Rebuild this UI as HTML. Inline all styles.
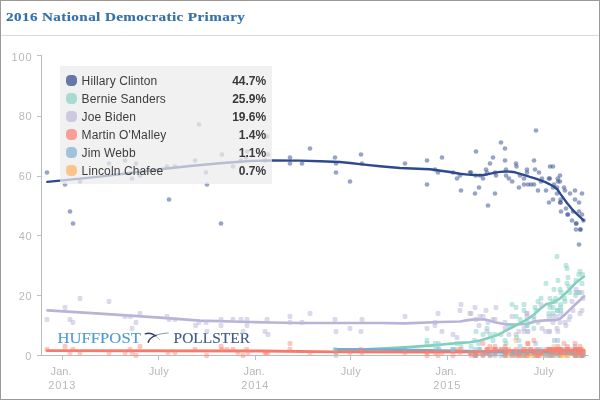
<!DOCTYPE html>
<html><head><meta charset="utf-8"><title>2016 National Democratic Primary</title>
<style>
html,body{margin:0;padding:0;background:#fff;}
body{width:600px;height:400px;overflow:hidden;position:relative;font-family:"Liberation Sans",sans-serif;}
#frame{position:absolute;left:0;top:0;width:598px;height:398px;border:1px solid #999;background:#fff;}
#title{will-change:transform;position:absolute;left:5.6px;top:7px;height:20px;line-height:20px;font-family:"Liberation Serif",serif;font-weight:bold;font-size:13.2px;letter-spacing:0.35px;color:#3371a7;white-space:nowrap;transform:scaleX(1.147);transform-origin:0 0;-webkit-text-stroke:0.15px #3371a7;}
#sep{position:absolute;left:1px;top:35px;width:598px;height:1px;background:#dcdcdc;}
svg{position:absolute;left:0;top:0;will-change:transform;}
#legend{will-change:transform;position:absolute;left:60px;top:66px;width:212px;height:118px;background:rgba(235,235,235,0.72);box-sizing:border-box;padding-top:9px;}
.row{position:relative;height:18px;}
.sw{position:absolute;left:6px;top:0;width:11px;height:11px;border-radius:4.2px;opacity:0.72;}
.nm{position:absolute;left:21.6px;top:-1px;font-size:12px;line-height:14px;color:#3d3d3d;white-space:nowrap;letter-spacing:0.12px;}
.vl{position:absolute;right:5.8px;top:-1px;font-size:12px;line-height:14px;font-weight:bold;color:#3a3a3a;white-space:nowrap;}
</style></head><body>
<div id="frame"></div>
<div id="title">2016 National Democratic Primary</div>
<div id="sep"></div>
<svg width="600" height="400" viewBox="0 0 600 400">
<g stroke="#bbbbbb" stroke-width="1" fill="none"><path d="M41.5 55 V356"/><path d="M41 355.5 H588.5"/></g>
<g stroke="#aec4dc" stroke-width="1"><path d="M37 355.5 H41"/><path d="M37 295.5 H41"/><path d="M37 235.5 H41"/><path d="M37 176.5 H41"/><path d="M37 116.5 H41"/><path d="M37 55.5 H41"/><path d="M62.5 356 V360"/><path d="M158.5 356 V360"/><path d="M255.5 356 V360"/><path d="M350.5 356 V360"/><path d="M447.5 356 V360"/><path d="M543.5 356 V360"/></g>
<g font-family="Liberation Sans, sans-serif" font-size="11" fill="#b9b9b9"><text x="25.3" y="359.5" textLength="6.3" lengthAdjust="spacing">0</text><text x="18.7" y="299.5" textLength="12.9" lengthAdjust="spacing">20</text><text x="18.7" y="239.5" textLength="12.9" lengthAdjust="spacing">40</text><text x="18.7" y="179.5" textLength="12.9" lengthAdjust="spacing">60</text><text x="18.7" y="119.5" textLength="12.9" lengthAdjust="spacing">80</text><text x="11.4" y="61.0" textLength="20.2" lengthAdjust="spacing">100</text><text x="50.6" y="374.8" textLength="21.0" lengthAdjust="spacing">Jan.</text><text x="48.3" y="388.8" textLength="27.0" lengthAdjust="spacing">2013</text><text x="148.7" y="374.8" textLength="20.0" lengthAdjust="spacing">July</text><text x="243.6" y="374.8" textLength="21.0" lengthAdjust="spacing">Jan.</text><text x="241.3" y="388.8" textLength="27.0" lengthAdjust="spacing">2014</text><text x="340.7" y="374.8" textLength="20.0" lengthAdjust="spacing">July</text><text x="435.6" y="374.8" textLength="21.0" lengthAdjust="spacing">Jan.</text><text x="433.3" y="388.8" textLength="27.0" lengthAdjust="spacing">2015</text><text x="533.7" y="374.8" textLength="20.0" lengthAdjust="spacing">July</text></g>
<text x="57.6" y="343.3" font-family="Liberation Serif, serif" font-size="15.6" fill="#4e9bd0" stroke="#4e9bd0" stroke-width="0.15" textLength="83.2" lengthAdjust="spacingAndGlyphs">HUFFPOST</text>
<text x="173.6" y="343.4" font-family="Liberation Serif, serif" font-size="15.2" fill="#3d5b8c" stroke="#3d5b8c" stroke-width="0.15" textLength="76.4" lengthAdjust="spacingAndGlyphs">POLLSTER</text>
<g fill="none" stroke="#2c3f6c" stroke-linecap="round"><path d="M145.3 333.9 C148 332.8 151.5 333.2 155 335.6" stroke-width="1.3"/><path d="M155 335.6 C157 337 158.5 338.2 159.8 339.6" stroke-width="0.5" stroke-opacity="0.6"/><path d="M168.2 333.0 C162 333.4 158.5 334.4 156 335.4" stroke-width="0.8" stroke-opacity="0.7"/><path d="M156 335.4 C152 337 149 339 148.2 342.2" stroke-width="1.5"/></g>
<path d="M47.5 310.4 L100.0 313.6 L160.0 317.6 L200.0 320.6 L250.0 322.0 L270.0 322.5 L300.0 323.0 L380.0 323.0 L405.0 323.4 L440.0 322.0 L460.0 321.5 L468.0 320.2 L475.0 319.4 L485.0 319.5 L490.0 320.7 L495.0 322.3 L505.0 324.3 L515.0 324.5 L527.0 324.0 L535.0 321.4 L545.0 320.3 L555.0 320.2 L560.0 318.8 L565.0 314.4 L572.0 307.6 L578.0 302.0 L584.0 296.2" fill="none" stroke="#b9b3d8" stroke-width="2.7" stroke-linecap="round" stroke-linejoin="round"/>
<path d="M335.0 350.0 L365.0 349.4 L385.0 348.4 L400.0 347.6 L430.0 345.6 L445.0 344.3 L460.0 342.9 L470.0 342.2 L480.0 340.5 L490.0 337.6 L500.0 334.0 L505.0 331.0 L510.0 328.5 L516.0 325.4 L520.0 323.2 L525.0 320.6 L530.0 317.3 L534.0 314.6 L539.0 309.8 L546.0 304.3 L554.0 302.2 L560.0 298.5 L569.0 290.0 L576.0 282.5 L584.0 276.5" fill="none" stroke="#7fcfbc" stroke-width="2.6" stroke-linecap="round" stroke-linejoin="round"/>
<path d="M508.0 353.6 L584.0 353.8" fill="none" stroke="#fdb462" stroke-width="2.4" stroke-linecap="round" stroke-linejoin="round"/>
<path d="M335.0 349.3 L400.0 349.7 L440.0 350.4 L470.0 350.9 L500.0 352.3 L584.0 352.3" fill="none" stroke="#74a9d2" stroke-width="2.4" stroke-linecap="round" stroke-linejoin="round"/>
<path d="M47.2 350.7 L260.0 351.0 L335.0 351.8 L420.0 352.2 L470.0 351.8 L500.0 350.7 L584.0 350.5" fill="none" stroke="#f8786b" stroke-width="2.8" stroke-linecap="round" stroke-linejoin="round"/>
<path d="M47.3 181.9 L60.0 180.6 L100.0 176.6 L130.0 173.0 L160.0 169.3 L190.0 166.0 L220.0 163.2 L250.0 161.0 L272.0 160.5 L300.0 160.6 L320.0 161.2 L340.0 162.0 L350.0 163.0 L362.0 164.4 L380.0 166.2 L400.0 168.0 L430.0 169.2 L450.0 172.0 L460.0 173.8 L468.0 174.6 L475.0 175.1 L482.0 175.2 L488.0 174.2 L495.0 172.6 L500.0 171.9 L506.0 171.5 L511.0 171.7 L515.0 172.3 L522.0 174.4 L530.0 176.9 L535.0 178.3 L540.0 180.1 L545.4 182.1 L553.5 186.2 L557.5 189.5 L560.2 193.6 L567.0 203.0 L573.8 211.2 L583.6 220.3" fill="none" stroke="#2f4a8c" stroke-width="2.4" stroke-linecap="round" stroke-linejoin="round"/>
<g fill="#bebada" fill-opacity="0.55"><rect x="77.6" y="296.1" width="4.8" height="4.8" rx="1.4"/><rect x="106.6" y="299.1" width="4.8" height="4.8" rx="1.4"/><rect x="62.6" y="305.1" width="4.8" height="4.8" rx="1.4"/><rect x="44.6" y="317.1" width="4.8" height="4.8" rx="1.4"/><rect x="67.6" y="317.1" width="4.8" height="4.8" rx="1.4"/><rect x="70.6" y="320.1" width="4.8" height="4.8" rx="1.4"/><rect x="137.6" y="311.1" width="4.8" height="4.8" rx="1.4"/><rect x="122.6" y="314.1" width="4.8" height="4.8" rx="1.4"/><rect x="128.0" y="314.1" width="4.8" height="4.8" rx="1.4"/><rect x="133.6" y="320.1" width="4.8" height="4.8" rx="1.4"/><rect x="129.6" y="326.1" width="4.8" height="4.8" rx="1.4"/><rect x="164.6" y="314.1" width="4.8" height="4.8" rx="1.4"/><rect x="166.6" y="317.1" width="4.8" height="4.8" rx="1.4"/><rect x="172.6" y="317.1" width="4.8" height="4.8" rx="1.4"/><rect x="193.2" y="323.1" width="4.8" height="4.8" rx="1.4"/><rect x="196.6" y="320.1" width="4.8" height="4.8" rx="1.4"/><rect x="203.6" y="320.1" width="4.8" height="4.8" rx="1.4"/><rect x="204.6" y="329.1" width="4.8" height="4.8" rx="1.4"/><rect x="218.6" y="317.1" width="4.8" height="4.8" rx="1.4"/><rect x="218.6" y="323.1" width="4.8" height="4.8" rx="1.4"/><rect x="230.6" y="317.1" width="4.8" height="4.8" rx="1.4"/><rect x="238.6" y="317.1" width="4.8" height="4.8" rx="1.4"/><rect x="244.6" y="317.1" width="4.8" height="4.8" rx="1.4"/><rect x="244.6" y="323.1" width="4.8" height="4.8" rx="1.4"/><rect x="240.6" y="329.1" width="4.8" height="4.8" rx="1.4"/><rect x="264.6" y="317.1" width="4.8" height="4.8" rx="1.4"/><rect x="262.6" y="329.1" width="4.8" height="4.8" rx="1.4"/><rect x="265.6" y="332.1" width="4.8" height="4.8" rx="1.4"/><rect x="287.6" y="314.1" width="4.8" height="4.8" rx="1.4"/><rect x="287.6" y="320.1" width="4.8" height="4.8" rx="1.4"/><rect x="299.6" y="320.1" width="4.8" height="4.8" rx="1.4"/><rect x="307.6" y="311.1" width="4.8" height="4.8" rx="1.4"/><rect x="332.6" y="317.1" width="4.8" height="4.8" rx="1.4"/><rect x="333.6" y="329.1" width="4.8" height="4.8" rx="1.4"/><rect x="347.6" y="326.1" width="4.8" height="4.8" rx="1.4"/><rect x="359.6" y="317.1" width="4.8" height="4.8" rx="1.4"/><rect x="358.6" y="329.1" width="4.8" height="4.8" rx="1.4"/><rect x="402.6" y="314.1" width="4.8" height="4.8" rx="1.4"/><rect x="435.6" y="311.1" width="4.8" height="4.8" rx="1.4"/><rect x="432.6" y="320.1" width="4.8" height="4.8" rx="1.4"/><rect x="432.6" y="323.1" width="4.8" height="4.8" rx="1.4"/><rect x="424.6" y="326.1" width="4.8" height="4.8" rx="1.4"/><rect x="439.6" y="329.1" width="4.8" height="4.8" rx="1.4"/><rect x="450.6" y="332.1" width="4.8" height="4.8" rx="1.4"/><rect x="454.6" y="335.1" width="4.8" height="4.8" rx="1.4"/><rect x="458.6" y="302.1" width="4.8" height="4.8" rx="1.4"/><rect x="457.6" y="308.1" width="4.8" height="4.8" rx="1.4"/><rect x="467.6" y="311.1" width="4.8" height="4.8" rx="1.4"/><rect x="472.6" y="305.1" width="4.8" height="4.8" rx="1.4"/><rect x="468.6" y="311.1" width="4.8" height="4.8" rx="1.4"/><rect x="483.6" y="308.1" width="4.8" height="4.8" rx="1.4"/><rect x="493.6" y="305.1" width="4.8" height="4.8" rx="1.4"/><rect x="477.6" y="314.1" width="4.8" height="4.8" rx="1.4"/><rect x="480.6" y="314.1" width="4.8" height="4.8" rx="1.4"/><rect x="473.6" y="317.1" width="4.8" height="4.8" rx="1.4"/><rect x="490.6" y="317.1" width="4.8" height="4.8" rx="1.4"/><rect x="492.6" y="317.1" width="4.8" height="4.8" rx="1.4"/><rect x="485.6" y="320.1" width="4.8" height="4.8" rx="1.4"/><rect x="476.6" y="323.1" width="4.8" height="4.8" rx="1.4"/><rect x="502.6" y="320.1" width="4.8" height="4.8" rx="1.4"/><rect x="502.6" y="326.1" width="4.8" height="4.8" rx="1.4"/><rect x="509.6" y="314.1" width="4.8" height="4.8" rx="1.4"/><rect x="524.6" y="311.1" width="4.8" height="4.8" rx="1.4"/><rect x="524.6" y="311.1" width="4.8" height="4.8" rx="1.4"/><rect x="524.6" y="314.1" width="4.8" height="4.8" rx="1.4"/><rect x="484.6" y="329.1" width="4.8" height="4.8" rx="1.4"/><rect x="506.6" y="332.1" width="4.8" height="4.8" rx="1.4"/><rect x="516.4" y="329.1" width="4.8" height="4.8" rx="1.4"/><rect x="521.6" y="329.1" width="4.8" height="4.8" rx="1.4"/><rect x="525.6" y="329.1" width="4.8" height="4.8" rx="1.4"/><rect x="521.6" y="326.1" width="4.8" height="4.8" rx="1.4"/><rect x="513.6" y="332.1" width="4.8" height="4.8" rx="1.4"/><rect x="538.6" y="302.1" width="4.8" height="4.8" rx="1.4"/><rect x="569.6" y="299.1" width="4.8" height="4.8" rx="1.4"/><rect x="580.6" y="296.1" width="4.8" height="4.8" rx="1.4"/><rect x="573.6" y="290.1" width="4.8" height="4.8" rx="1.4"/><rect x="579.6" y="290.1" width="4.8" height="4.8" rx="1.4"/><rect x="577.0" y="290.1" width="4.8" height="4.8" rx="1.4"/><rect x="574.6" y="290.1" width="4.8" height="4.8" rx="1.4"/><rect x="573.6" y="287.1" width="4.8" height="4.8" rx="1.4"/><rect x="579.6" y="308.1" width="4.8" height="4.8" rx="1.4"/><rect x="577.6" y="311.1" width="4.8" height="4.8" rx="1.4"/><rect x="570.6" y="308.1" width="4.8" height="4.8" rx="1.4"/><rect x="531.6" y="314.1" width="4.8" height="4.8" rx="1.4"/><rect x="546.6" y="314.1" width="4.8" height="4.8" rx="1.4"/><rect x="550.6" y="314.1" width="4.8" height="4.8" rx="1.4"/><rect x="554.6" y="314.1" width="4.8" height="4.8" rx="1.4"/><rect x="558.6" y="311.1" width="4.8" height="4.8" rx="1.4"/><rect x="567.6" y="314.1" width="4.8" height="4.8" rx="1.4"/><rect x="566.6" y="317.1" width="4.8" height="4.8" rx="1.4"/><rect x="535.6" y="320.1" width="4.8" height="4.8" rx="1.4"/><rect x="550.6" y="320.1" width="4.8" height="4.8" rx="1.4"/><rect x="557.6" y="320.1" width="4.8" height="4.8" rx="1.4"/><rect x="562.6" y="320.1" width="4.8" height="4.8" rx="1.4"/><rect x="563.6" y="323.1" width="4.8" height="4.8" rx="1.4"/><rect x="539.6" y="326.1" width="4.8" height="4.8" rx="1.4"/><rect x="554.6" y="326.1" width="4.8" height="4.8" rx="1.4"/><rect x="525.1" y="329.1" width="4.8" height="4.8" rx="1.4"/><rect x="543.2" y="329.1" width="4.8" height="4.8" rx="1.4"/><rect x="547.0" y="329.1" width="4.8" height="4.8" rx="1.4"/><rect x="547.0" y="329.1" width="4.8" height="4.8" rx="1.4"/><rect x="555.4" y="329.1" width="4.8" height="4.8" rx="1.4"/></g>
<g fill="#8dd3c7" fill-opacity="0.55"><rect x="332.6" y="347.1" width="4.8" height="4.8" rx="1.4"/><rect x="333.6" y="353.1" width="4.8" height="4.8" rx="1.4"/><rect x="424.6" y="338.1" width="4.8" height="4.8" rx="1.4"/><rect x="424.6" y="341.1" width="4.8" height="4.8" rx="1.4"/><rect x="432.6" y="341.1" width="4.8" height="4.8" rx="1.4"/><rect x="432.6" y="344.1" width="4.8" height="4.8" rx="1.4"/><rect x="436.0" y="341.1" width="4.8" height="4.8" rx="1.4"/><rect x="435.6" y="344.1" width="4.8" height="4.8" rx="1.4"/><rect x="454.6" y="341.1" width="4.8" height="4.8" rx="1.4"/><rect x="458.6" y="344.1" width="4.8" height="4.8" rx="1.4"/><rect x="450.6" y="347.1" width="4.8" height="4.8" rx="1.4"/><rect x="509.6" y="302.1" width="4.8" height="4.8" rx="1.4"/><rect x="521.6" y="302.1" width="4.8" height="4.8" rx="1.4"/><rect x="513.6" y="305.1" width="4.8" height="4.8" rx="1.4"/><rect x="521.6" y="308.1" width="4.8" height="4.8" rx="1.4"/><rect x="513.6" y="314.1" width="4.8" height="4.8" rx="1.4"/><rect x="517.6" y="317.1" width="4.8" height="4.8" rx="1.4"/><rect x="506.6" y="323.1" width="4.8" height="4.8" rx="1.4"/><rect x="524.6" y="323.1" width="4.8" height="4.8" rx="1.4"/><rect x="484.6" y="326.1" width="4.8" height="4.8" rx="1.4"/><rect x="473.6" y="329.1" width="4.8" height="4.8" rx="1.4"/><rect x="480.6" y="332.1" width="4.8" height="4.8" rx="1.4"/><rect x="487.6" y="332.1" width="4.8" height="4.8" rx="1.4"/><rect x="492.6" y="332.1" width="4.8" height="4.8" rx="1.4"/><rect x="498.6" y="332.1" width="4.8" height="4.8" rx="1.4"/><rect x="514.1" y="335.1" width="4.8" height="4.8" rx="1.4"/><rect x="472.2" y="338.1" width="4.8" height="4.8" rx="1.4"/><rect x="476.3" y="341.1" width="4.8" height="4.8" rx="1.4"/><rect x="468.6" y="344.1" width="4.8" height="4.8" rx="1.4"/><rect x="490.6" y="338.1" width="4.8" height="4.8" rx="1.4"/><rect x="502.6" y="338.1" width="4.8" height="4.8" rx="1.4"/><rect x="503.6" y="341.1" width="4.8" height="4.8" rx="1.4"/><rect x="516.6" y="338.1" width="4.8" height="4.8" rx="1.4"/><rect x="554.6" y="254.1" width="4.8" height="4.8" rx="1.4"/><rect x="563.6" y="263.1" width="4.8" height="4.8" rx="1.4"/><rect x="564.6" y="266.1" width="4.8" height="4.8" rx="1.4"/><rect x="577.6" y="269.1" width="4.8" height="4.8" rx="1.4"/><rect x="576.4" y="272.1" width="4.8" height="4.8" rx="1.4"/><rect x="580.1" y="272.1" width="4.8" height="4.8" rx="1.4"/><rect x="565.6" y="275.1" width="4.8" height="4.8" rx="1.4"/><rect x="555.6" y="278.1" width="4.8" height="4.8" rx="1.4"/><rect x="573.6" y="278.1" width="4.8" height="4.8" rx="1.4"/><rect x="543.6" y="281.1" width="4.8" height="4.8" rx="1.4"/><rect x="564.6" y="281.1" width="4.8" height="4.8" rx="1.4"/><rect x="579.6" y="281.1" width="4.8" height="4.8" rx="1.4"/><rect x="566.4" y="284.1" width="4.8" height="4.8" rx="1.4"/><rect x="551.6" y="287.1" width="4.8" height="4.8" rx="1.4"/><rect x="557.6" y="287.1" width="4.8" height="4.8" rx="1.4"/><rect x="558.6" y="290.1" width="4.8" height="4.8" rx="1.4"/><rect x="567.6" y="290.1" width="4.8" height="4.8" rx="1.4"/><rect x="573.2" y="293.1" width="4.8" height="4.8" rx="1.4"/><rect x="538.6" y="296.1" width="4.8" height="4.8" rx="1.4"/><rect x="547.6" y="296.1" width="4.8" height="4.8" rx="1.4"/><rect x="553.2" y="296.1" width="4.8" height="4.8" rx="1.4"/><rect x="562.1" y="296.1" width="4.8" height="4.8" rx="1.4"/><rect x="535.6" y="299.1" width="4.8" height="4.8" rx="1.4"/><rect x="550.6" y="299.1" width="4.8" height="4.8" rx="1.4"/><rect x="553.2" y="299.1" width="4.8" height="4.8" rx="1.4"/><rect x="562.6" y="299.1" width="4.8" height="4.8" rx="1.4"/><rect x="547.6" y="302.1" width="4.8" height="4.8" rx="1.4"/><rect x="558.2" y="302.1" width="4.8" height="4.8" rx="1.4"/><rect x="532.6" y="305.1" width="4.8" height="4.8" rx="1.4"/><rect x="547.6" y="305.1" width="4.8" height="4.8" rx="1.4"/><rect x="550.6" y="305.1" width="4.8" height="4.8" rx="1.4"/><rect x="558.2" y="305.1" width="4.8" height="4.8" rx="1.4"/><rect x="533.6" y="308.1" width="4.8" height="4.8" rx="1.4"/><rect x="555.1" y="308.1" width="4.8" height="4.8" rx="1.4"/><rect x="555.1" y="308.1" width="4.8" height="4.8" rx="1.4"/><rect x="558.6" y="308.1" width="4.8" height="4.8" rx="1.4"/><rect x="546.4" y="311.1" width="4.8" height="4.8" rx="1.4"/><rect x="550.6" y="311.1" width="4.8" height="4.8" rx="1.4"/><rect x="531.4" y="317.1" width="4.8" height="4.8" rx="1.4"/><rect x="525.1" y="320.1" width="4.8" height="4.8" rx="1.4"/><rect x="524.6" y="323.1" width="4.8" height="4.8" rx="1.4"/><rect x="531.4" y="326.1" width="4.8" height="4.8" rx="1.4"/><rect x="576.6" y="290.1" width="4.8" height="4.8" rx="1.4"/></g>
<g fill="#fdb462" fill-opacity="0.45"><rect x="513.4" y="338.1" width="4.8" height="4.8" rx="1.4"/><rect x="506.0" y="353.1" width="4.8" height="4.8" rx="1.4"/><rect x="518.3" y="353.1" width="4.8" height="4.8" rx="1.4"/><rect x="521.2" y="353.1" width="4.8" height="4.8" rx="1.4"/><rect x="551.6" y="344.1" width="4.8" height="4.8" rx="1.4"/><rect x="503.6" y="353.1" width="4.8" height="4.8" rx="1.4"/><rect x="506.4" y="350.1" width="4.8" height="4.8" rx="1.4"/><rect x="513.6" y="353.1" width="4.8" height="4.8" rx="1.4"/><rect x="514.1" y="350.1" width="4.8" height="4.8" rx="1.4"/><rect x="521.6" y="353.1" width="4.8" height="4.8" rx="1.4"/><rect x="521.6" y="353.1" width="4.8" height="4.8" rx="1.4"/><rect x="524.6" y="353.1" width="4.8" height="4.8" rx="1.4"/><rect x="524.6" y="350.1" width="4.8" height="4.8" rx="1.4"/><rect x="525.6" y="353.1" width="4.8" height="4.8" rx="1.4"/><rect x="528.6" y="353.1" width="4.8" height="4.8" rx="1.4"/><rect x="531.6" y="353.1" width="4.8" height="4.8" rx="1.4"/><rect x="531.6" y="353.1" width="4.8" height="4.8" rx="1.4"/><rect x="532.6" y="350.1" width="4.8" height="4.8" rx="1.4"/><rect x="533.6" y="353.1" width="4.8" height="4.8" rx="1.4"/><rect x="535.6" y="353.1" width="4.8" height="4.8" rx="1.4"/><rect x="536.6" y="350.1" width="4.8" height="4.8" rx="1.4"/><rect x="538.6" y="353.1" width="4.8" height="4.8" rx="1.4"/><rect x="543.6" y="353.1" width="4.8" height="4.8" rx="1.4"/><rect x="546.6" y="353.1" width="4.8" height="4.8" rx="1.4"/><rect x="547.4" y="353.1" width="4.8" height="4.8" rx="1.4"/><rect x="547.6" y="353.1" width="4.8" height="4.8" rx="1.4"/><rect x="550.6" y="350.1" width="4.8" height="4.8" rx="1.4"/><rect x="550.6" y="353.1" width="4.8" height="4.8" rx="1.4"/><rect x="550.6" y="350.1" width="4.8" height="4.8" rx="1.4"/><rect x="551.6" y="353.1" width="4.8" height="4.8" rx="1.4"/><rect x="554.6" y="350.1" width="4.8" height="4.8" rx="1.4"/><rect x="554.6" y="350.1" width="4.8" height="4.8" rx="1.4"/><rect x="555.6" y="350.1" width="4.8" height="4.8" rx="1.4"/><rect x="557.6" y="353.1" width="4.8" height="4.8" rx="1.4"/><rect x="558.2" y="353.1" width="4.8" height="4.8" rx="1.4"/><rect x="558.2" y="353.1" width="4.8" height="4.8" rx="1.4"/><rect x="558.6" y="353.1" width="4.8" height="4.8" rx="1.4"/><rect x="561.6" y="350.1" width="4.8" height="4.8" rx="1.4"/><rect x="562.6" y="353.1" width="4.8" height="4.8" rx="1.4"/><rect x="563.6" y="353.1" width="4.8" height="4.8" rx="1.4"/><rect x="565.1" y="353.1" width="4.8" height="4.8" rx="1.4"/><rect x="565.6" y="353.1" width="4.8" height="4.8" rx="1.4"/><rect x="567.6" y="350.1" width="4.8" height="4.8" rx="1.4"/><rect x="569.6" y="350.1" width="4.8" height="4.8" rx="1.4"/><rect x="572.6" y="353.1" width="4.8" height="4.8" rx="1.4"/><rect x="572.6" y="353.1" width="4.8" height="4.8" rx="1.4"/><rect x="573.6" y="350.1" width="4.8" height="4.8" rx="1.4"/><rect x="573.6" y="353.1" width="4.8" height="4.8" rx="1.4"/><rect x="574.0" y="350.1" width="4.8" height="4.8" rx="1.4"/><rect x="576.6" y="353.1" width="4.8" height="4.8" rx="1.4"/><rect x="576.6" y="353.1" width="4.8" height="4.8" rx="1.4"/><rect x="576.6" y="353.1" width="4.8" height="4.8" rx="1.4"/><rect x="577.8" y="347.1" width="4.8" height="4.8" rx="1.4"/><rect x="578.2" y="353.1" width="4.8" height="4.8" rx="1.4"/><rect x="579.6" y="353.1" width="4.8" height="4.8" rx="1.4"/><rect x="579.6" y="350.1" width="4.8" height="4.8" rx="1.4"/><rect x="581.1" y="350.1" width="4.8" height="4.8" rx="1.4"/></g>
<g fill="#80b1d3" fill-opacity="0.45"><rect x="402.6" y="347.1" width="4.8" height="4.8" rx="1.4"/><rect x="436.6" y="347.1" width="4.8" height="4.8" rx="1.4"/><rect x="450.6" y="347.1" width="4.8" height="4.8" rx="1.4"/><rect x="472.6" y="347.1" width="4.8" height="4.8" rx="1.4"/><rect x="517.6" y="344.1" width="4.8" height="4.8" rx="1.4"/><rect x="480.6" y="353.1" width="4.8" height="4.8" rx="1.4"/><rect x="498.6" y="353.1" width="4.8" height="4.8" rx="1.4"/><rect x="509.6" y="353.1" width="4.8" height="4.8" rx="1.4"/><rect x="552.0" y="338.1" width="4.8" height="4.8" rx="1.4"/><rect x="555.4" y="338.1" width="4.8" height="4.8" rx="1.4"/><rect x="533.2" y="341.1" width="4.8" height="4.8" rx="1.4"/><rect x="572.6" y="344.1" width="4.8" height="4.8" rx="1.4"/><rect x="547.0" y="347.1" width="4.8" height="4.8" rx="1.4"/><rect x="467.6" y="350.1" width="4.8" height="4.8" rx="1.4"/><rect x="468.6" y="350.1" width="4.8" height="4.8" rx="1.4"/><rect x="472.6" y="353.1" width="4.8" height="4.8" rx="1.4"/><rect x="473.2" y="353.1" width="4.8" height="4.8" rx="1.4"/><rect x="473.6" y="353.1" width="4.8" height="4.8" rx="1.4"/><rect x="476.6" y="347.1" width="4.8" height="4.8" rx="1.4"/><rect x="477.6" y="347.1" width="4.8" height="4.8" rx="1.4"/><rect x="480.6" y="350.1" width="4.8" height="4.8" rx="1.4"/><rect x="483.6" y="350.1" width="4.8" height="4.8" rx="1.4"/><rect x="484.6" y="350.1" width="4.8" height="4.8" rx="1.4"/><rect x="485.6" y="350.1" width="4.8" height="4.8" rx="1.4"/><rect x="487.6" y="353.1" width="4.8" height="4.8" rx="1.4"/><rect x="490.6" y="350.1" width="4.8" height="4.8" rx="1.4"/><rect x="492.6" y="350.1" width="4.8" height="4.8" rx="1.4"/><rect x="492.6" y="353.1" width="4.8" height="4.8" rx="1.4"/><rect x="493.6" y="347.1" width="4.8" height="4.8" rx="1.4"/><rect x="498.6" y="347.1" width="4.8" height="4.8" rx="1.4"/><rect x="502.6" y="347.1" width="4.8" height="4.8" rx="1.4"/><rect x="502.6" y="353.1" width="4.8" height="4.8" rx="1.4"/><rect x="503.6" y="350.1" width="4.8" height="4.8" rx="1.4"/><rect x="503.6" y="350.1" width="4.8" height="4.8" rx="1.4"/><rect x="509.9" y="350.1" width="4.8" height="4.8" rx="1.4"/><rect x="513.6" y="350.1" width="4.8" height="4.8" rx="1.4"/><rect x="514.1" y="353.1" width="4.8" height="4.8" rx="1.4"/><rect x="516.6" y="350.1" width="4.8" height="4.8" rx="1.4"/><rect x="517.6" y="350.1" width="4.8" height="4.8" rx="1.4"/><rect x="521.6" y="353.1" width="4.8" height="4.8" rx="1.4"/><rect x="524.6" y="350.1" width="4.8" height="4.8" rx="1.4"/><rect x="524.6" y="350.1" width="4.8" height="4.8" rx="1.4"/><rect x="525.6" y="350.1" width="4.8" height="4.8" rx="1.4"/><rect x="528.6" y="347.1" width="4.8" height="4.8" rx="1.4"/><rect x="531.6" y="350.1" width="4.8" height="4.8" rx="1.4"/><rect x="531.6" y="350.1" width="4.8" height="4.8" rx="1.4"/><rect x="532.6" y="350.1" width="4.8" height="4.8" rx="1.4"/><rect x="533.6" y="353.1" width="4.8" height="4.8" rx="1.4"/><rect x="535.6" y="347.1" width="4.8" height="4.8" rx="1.4"/><rect x="536.6" y="350.1" width="4.8" height="4.8" rx="1.4"/><rect x="538.6" y="347.1" width="4.8" height="4.8" rx="1.4"/><rect x="539.6" y="350.1" width="4.8" height="4.8" rx="1.4"/><rect x="543.6" y="353.1" width="4.8" height="4.8" rx="1.4"/><rect x="546.6" y="347.1" width="4.8" height="4.8" rx="1.4"/><rect x="547.4" y="350.1" width="4.8" height="4.8" rx="1.4"/><rect x="547.6" y="353.1" width="4.8" height="4.8" rx="1.4"/><rect x="550.6" y="353.1" width="4.8" height="4.8" rx="1.4"/><rect x="551.6" y="350.1" width="4.8" height="4.8" rx="1.4"/><rect x="554.6" y="347.1" width="4.8" height="4.8" rx="1.4"/><rect x="555.4" y="350.1" width="4.8" height="4.8" rx="1.4"/><rect x="555.6" y="353.1" width="4.8" height="4.8" rx="1.4"/><rect x="557.6" y="347.1" width="4.8" height="4.8" rx="1.4"/><rect x="557.6" y="350.1" width="4.8" height="4.8" rx="1.4"/><rect x="557.8" y="350.1" width="4.8" height="4.8" rx="1.4"/><rect x="558.2" y="347.1" width="4.8" height="4.8" rx="1.4"/><rect x="558.2" y="350.1" width="4.8" height="4.8" rx="1.4"/><rect x="562.6" y="350.1" width="4.8" height="4.8" rx="1.4"/><rect x="563.6" y="347.1" width="4.8" height="4.8" rx="1.4"/><rect x="565.1" y="350.1" width="4.8" height="4.8" rx="1.4"/><rect x="565.6" y="350.1" width="4.8" height="4.8" rx="1.4"/><rect x="567.6" y="350.1" width="4.8" height="4.8" rx="1.4"/><rect x="569.6" y="350.1" width="4.8" height="4.8" rx="1.4"/><rect x="570.6" y="350.1" width="4.8" height="4.8" rx="1.4"/><rect x="572.6" y="347.1" width="4.8" height="4.8" rx="1.4"/><rect x="572.6" y="353.1" width="4.8" height="4.8" rx="1.4"/><rect x="573.6" y="353.1" width="4.8" height="4.8" rx="1.4"/><rect x="573.6" y="350.1" width="4.8" height="4.8" rx="1.4"/><rect x="576.6" y="347.1" width="4.8" height="4.8" rx="1.4"/><rect x="576.6" y="350.1" width="4.8" height="4.8" rx="1.4"/><rect x="576.6" y="350.1" width="4.8" height="4.8" rx="1.4"/><rect x="577.8" y="350.1" width="4.8" height="4.8" rx="1.4"/><rect x="579.6" y="353.1" width="4.8" height="4.8" rx="1.4"/><rect x="579.6" y="353.1" width="4.8" height="4.8" rx="1.4"/><rect x="581.1" y="353.1" width="4.8" height="4.8" rx="1.4"/></g>
<g fill="#fb8072" fill-opacity="0.45"><rect x="44.6" y="347.1" width="4.8" height="4.8" rx="1.4"/><rect x="62.6" y="344.1" width="4.8" height="4.8" rx="1.4"/><rect x="70.6" y="347.1" width="4.8" height="4.8" rx="1.4"/><rect x="67.6" y="350.1" width="4.8" height="4.8" rx="1.4"/><rect x="77.6" y="350.1" width="4.8" height="4.8" rx="1.4"/><rect x="106.6" y="350.1" width="4.8" height="4.8" rx="1.4"/><rect x="122.6" y="350.1" width="4.8" height="4.8" rx="1.4"/><rect x="127.6" y="347.1" width="4.8" height="4.8" rx="1.4"/><rect x="129.6" y="350.1" width="4.8" height="4.8" rx="1.4"/><rect x="133.6" y="353.1" width="4.8" height="4.8" rx="1.4"/><rect x="137.6" y="344.1" width="4.8" height="4.8" rx="1.4"/><rect x="192.6" y="347.1" width="4.8" height="4.8" rx="1.4"/><rect x="165.6" y="350.1" width="4.8" height="4.8" rx="1.4"/><rect x="172.6" y="350.1" width="4.8" height="4.8" rx="1.4"/><rect x="204.2" y="353.1" width="4.8" height="4.8" rx="1.4"/><rect x="218.6" y="344.1" width="4.8" height="4.8" rx="1.4"/><rect x="219.6" y="347.1" width="4.8" height="4.8" rx="1.4"/><rect x="224.6" y="347.1" width="4.8" height="4.8" rx="1.4"/><rect x="230.6" y="347.1" width="4.8" height="4.8" rx="1.4"/><rect x="235.6" y="350.1" width="4.8" height="4.8" rx="1.4"/><rect x="240.6" y="353.1" width="4.8" height="4.8" rx="1.4"/><rect x="244.2" y="347.1" width="4.8" height="4.8" rx="1.4"/><rect x="245.6" y="350.1" width="4.8" height="4.8" rx="1.4"/><rect x="263.6" y="350.1" width="4.8" height="4.8" rx="1.4"/><rect x="262.6" y="350.1" width="4.8" height="4.8" rx="1.4"/><rect x="265.6" y="350.1" width="4.8" height="4.8" rx="1.4"/><rect x="287.6" y="341.1" width="4.8" height="4.8" rx="1.4"/><rect x="287.6" y="347.1" width="4.8" height="4.8" rx="1.4"/><rect x="307.6" y="350.1" width="4.8" height="4.8" rx="1.4"/><rect x="333.6" y="350.1" width="4.8" height="4.8" rx="1.4"/><rect x="347.6" y="350.1" width="4.8" height="4.8" rx="1.4"/><rect x="358.6" y="347.1" width="4.8" height="4.8" rx="1.4"/><rect x="359.6" y="350.1" width="4.8" height="4.8" rx="1.4"/><rect x="402.6" y="350.1" width="4.8" height="4.8" rx="1.4"/><rect x="424.6" y="353.1" width="4.8" height="4.8" rx="1.4"/><rect x="424.6" y="350.1" width="4.8" height="4.8" rx="1.4"/><rect x="432.6" y="350.1" width="4.8" height="4.8" rx="1.4"/><rect x="435.6" y="353.1" width="4.8" height="4.8" rx="1.4"/><rect x="439.6" y="350.1" width="4.8" height="4.8" rx="1.4"/><rect x="450.6" y="353.1" width="4.8" height="4.8" rx="1.4"/><rect x="454.6" y="347.1" width="4.8" height="4.8" rx="1.4"/><rect x="458.6" y="347.1" width="4.8" height="4.8" rx="1.4"/><rect x="457.6" y="350.1" width="4.8" height="4.8" rx="1.4"/><rect x="480.6" y="341.1" width="4.8" height="4.8" rx="1.4"/><rect x="487.4" y="344.1" width="4.8" height="4.8" rx="1.4"/><rect x="492.6" y="344.1" width="4.8" height="4.8" rx="1.4"/><rect x="484.6" y="347.1" width="4.8" height="4.8" rx="1.4"/><rect x="502.6" y="344.1" width="4.8" height="4.8" rx="1.4"/><rect x="525.3" y="341.1" width="4.8" height="4.8" rx="1.4"/><rect x="531.4" y="338.1" width="4.8" height="4.8" rx="1.4"/><rect x="525.6" y="341.1" width="4.8" height="4.8" rx="1.4"/><rect x="561.6" y="341.1" width="4.8" height="4.8" rx="1.4"/><rect x="572.6" y="341.1" width="4.8" height="4.8" rx="1.4"/><rect x="555.6" y="344.1" width="4.8" height="4.8" rx="1.4"/><rect x="565.1" y="344.1" width="4.8" height="4.8" rx="1.4"/><rect x="577.6" y="344.1" width="4.8" height="4.8" rx="1.4"/><rect x="467.6" y="350.1" width="4.8" height="4.8" rx="1.4"/><rect x="468.6" y="353.1" width="4.8" height="4.8" rx="1.4"/><rect x="472.6" y="353.1" width="4.8" height="4.8" rx="1.4"/><rect x="473.2" y="350.1" width="4.8" height="4.8" rx="1.4"/><rect x="473.6" y="350.1" width="4.8" height="4.8" rx="1.4"/><rect x="476.6" y="350.1" width="4.8" height="4.8" rx="1.4"/><rect x="477.6" y="350.1" width="4.8" height="4.8" rx="1.4"/><rect x="480.6" y="353.1" width="4.8" height="4.8" rx="1.4"/><rect x="483.6" y="350.1" width="4.8" height="4.8" rx="1.4"/><rect x="484.6" y="347.1" width="4.8" height="4.8" rx="1.4"/><rect x="485.6" y="347.1" width="4.8" height="4.8" rx="1.4"/><rect x="487.6" y="353.1" width="4.8" height="4.8" rx="1.4"/><rect x="490.6" y="347.1" width="4.8" height="4.8" rx="1.4"/><rect x="492.6" y="347.1" width="4.8" height="4.8" rx="1.4"/><rect x="492.6" y="347.1" width="4.8" height="4.8" rx="1.4"/><rect x="493.6" y="350.1" width="4.8" height="4.8" rx="1.4"/><rect x="498.6" y="347.1" width="4.8" height="4.8" rx="1.4"/><rect x="502.6" y="353.1" width="4.8" height="4.8" rx="1.4"/><rect x="502.6" y="350.1" width="4.8" height="4.8" rx="1.4"/><rect x="503.6" y="347.1" width="4.8" height="4.8" rx="1.4"/><rect x="503.6" y="350.1" width="4.8" height="4.8" rx="1.4"/><rect x="506.4" y="347.1" width="4.8" height="4.8" rx="1.4"/><rect x="509.9" y="353.1" width="4.8" height="4.8" rx="1.4"/><rect x="513.6" y="347.1" width="4.8" height="4.8" rx="1.4"/><rect x="514.1" y="350.1" width="4.8" height="4.8" rx="1.4"/><rect x="516.6" y="353.1" width="4.8" height="4.8" rx="1.4"/><rect x="517.6" y="353.1" width="4.8" height="4.8" rx="1.4"/><rect x="521.6" y="347.1" width="4.8" height="4.8" rx="1.4"/><rect x="521.6" y="347.1" width="4.8" height="4.8" rx="1.4"/><rect x="524.6" y="350.1" width="4.8" height="4.8" rx="1.4"/><rect x="524.6" y="353.1" width="4.8" height="4.8" rx="1.4"/><rect x="525.6" y="347.1" width="4.8" height="4.8" rx="1.4"/><rect x="528.6" y="347.1" width="4.8" height="4.8" rx="1.4"/><rect x="531.6" y="350.1" width="4.8" height="4.8" rx="1.4"/><rect x="531.6" y="350.1" width="4.8" height="4.8" rx="1.4"/><rect x="532.6" y="350.1" width="4.8" height="4.8" rx="1.4"/><rect x="533.6" y="347.1" width="4.8" height="4.8" rx="1.4"/><rect x="535.6" y="353.1" width="4.8" height="4.8" rx="1.4"/><rect x="536.6" y="353.1" width="4.8" height="4.8" rx="1.4"/><rect x="538.6" y="350.1" width="4.8" height="4.8" rx="1.4"/><rect x="539.6" y="350.1" width="4.8" height="4.8" rx="1.4"/><rect x="543.6" y="347.1" width="4.8" height="4.8" rx="1.4"/><rect x="546.6" y="347.1" width="4.8" height="4.8" rx="1.4"/><rect x="546.6" y="347.1" width="4.8" height="4.8" rx="1.4"/><rect x="547.4" y="347.1" width="4.8" height="4.8" rx="1.4"/><rect x="547.6" y="350.1" width="4.8" height="4.8" rx="1.4"/><rect x="550.6" y="347.1" width="4.8" height="4.8" rx="1.4"/><rect x="550.6" y="347.1" width="4.8" height="4.8" rx="1.4"/><rect x="550.6" y="350.1" width="4.8" height="4.8" rx="1.4"/><rect x="551.6" y="347.1" width="4.8" height="4.8" rx="1.4"/><rect x="554.6" y="347.1" width="4.8" height="4.8" rx="1.4"/><rect x="554.6" y="350.1" width="4.8" height="4.8" rx="1.4"/><rect x="555.4" y="347.1" width="4.8" height="4.8" rx="1.4"/><rect x="555.6" y="347.1" width="4.8" height="4.8" rx="1.4"/><rect x="557.6" y="347.1" width="4.8" height="4.8" rx="1.4"/><rect x="557.6" y="347.1" width="4.8" height="4.8" rx="1.4"/><rect x="557.8" y="347.1" width="4.8" height="4.8" rx="1.4"/><rect x="558.2" y="350.1" width="4.8" height="4.8" rx="1.4"/><rect x="558.2" y="350.1" width="4.8" height="4.8" rx="1.4"/><rect x="558.6" y="350.1" width="4.8" height="4.8" rx="1.4"/><rect x="561.6" y="347.1" width="4.8" height="4.8" rx="1.4"/><rect x="562.6" y="350.1" width="4.8" height="4.8" rx="1.4"/><rect x="563.6" y="350.1" width="4.8" height="4.8" rx="1.4"/><rect x="565.1" y="347.1" width="4.8" height="4.8" rx="1.4"/><rect x="565.6" y="347.1" width="4.8" height="4.8" rx="1.4"/><rect x="567.6" y="347.1" width="4.8" height="4.8" rx="1.4"/><rect x="569.6" y="350.1" width="4.8" height="4.8" rx="1.4"/><rect x="570.6" y="350.1" width="4.8" height="4.8" rx="1.4"/><rect x="572.6" y="347.1" width="4.8" height="4.8" rx="1.4"/><rect x="572.6" y="347.1" width="4.8" height="4.8" rx="1.4"/><rect x="573.6" y="353.1" width="4.8" height="4.8" rx="1.4"/><rect x="573.6" y="347.1" width="4.8" height="4.8" rx="1.4"/><rect x="574.0" y="347.1" width="4.8" height="4.8" rx="1.4"/><rect x="576.6" y="350.1" width="4.8" height="4.8" rx="1.4"/><rect x="576.6" y="350.1" width="4.8" height="4.8" rx="1.4"/><rect x="576.6" y="347.1" width="4.8" height="4.8" rx="1.4"/><rect x="577.8" y="350.1" width="4.8" height="4.8" rx="1.4"/><rect x="578.2" y="347.1" width="4.8" height="4.8" rx="1.4"/><rect x="579.6" y="353.1" width="4.8" height="4.8" rx="1.4"/><rect x="579.6" y="347.1" width="4.8" height="4.8" rx="1.4"/><rect x="581.1" y="350.1" width="4.8" height="4.8" rx="1.4"/></g>
<g fill="#2f4a8c" fill-opacity="0.5"><circle cx="47.0" cy="172.5" r="2.35"/><circle cx="65.0" cy="184.5" r="2.35"/><circle cx="80.0" cy="181.5" r="2.35"/><circle cx="70.0" cy="211.5" r="2.35"/><circle cx="73.0" cy="223.5" r="2.35"/><circle cx="109.0" cy="163.5" r="2.35"/><circle cx="125.0" cy="160.5" r="2.35"/><circle cx="136.0" cy="163.5" r="2.35"/><circle cx="132.0" cy="178.5" r="2.35"/><circle cx="140.0" cy="175.5" r="2.35"/><circle cx="167.0" cy="166.5" r="2.35"/><circle cx="175.0" cy="166.5" r="2.35"/><circle cx="195.0" cy="160.5" r="2.35"/><circle cx="206.0" cy="172.5" r="2.35"/><circle cx="222.0" cy="154.5" r="2.35"/><circle cx="233.0" cy="166.5" r="2.35"/><circle cx="241.0" cy="160.5" r="2.35"/><circle cx="246.0" cy="157.5" r="2.35"/><circle cx="247.0" cy="151.5" r="2.35"/><circle cx="199.0" cy="124.5" r="2.35"/><circle cx="267.0" cy="136.5" r="2.35"/><circle cx="268.0" cy="154.5" r="2.35"/><circle cx="265.0" cy="160.5" r="2.35"/><circle cx="207.0" cy="184.5" r="2.35"/><circle cx="169.0" cy="199.5" r="2.35"/><circle cx="221.0" cy="223.5" r="2.35"/><circle cx="290.0" cy="157.5" r="2.35"/><circle cx="290.0" cy="163.5" r="2.35"/><circle cx="302.0" cy="163.5" r="2.35"/><circle cx="310.0" cy="148.5" r="2.35"/><circle cx="335.0" cy="157.5" r="2.35"/><circle cx="336.0" cy="163.5" r="2.35"/><circle cx="336.0" cy="172.5" r="2.35"/><circle cx="350.0" cy="181.5" r="2.35"/><circle cx="361.0" cy="154.5" r="2.35"/><circle cx="362.0" cy="163.5" r="2.35"/><circle cx="405.0" cy="163.5" r="2.35"/><circle cx="427.0" cy="160.5" r="2.35"/><circle cx="427.0" cy="184.5" r="2.35"/><circle cx="435.0" cy="169.5" r="2.35"/><circle cx="438.0" cy="172.5" r="2.35"/><circle cx="442.0" cy="157.5" r="2.35"/><circle cx="453.0" cy="172.5" r="2.35"/><circle cx="457.0" cy="178.5" r="2.35"/><circle cx="460.0" cy="175.5" r="2.35"/><circle cx="461.0" cy="190.5" r="2.35"/><circle cx="470.0" cy="172.5" r="2.35"/><circle cx="476.0" cy="151.5" r="2.35"/><circle cx="501.0" cy="142.5" r="2.35"/><circle cx="505.0" cy="148.5" r="2.35"/><circle cx="493.0" cy="157.5" r="2.35"/><circle cx="490.0" cy="163.5" r="2.35"/><circle cx="505.0" cy="160.5" r="2.35"/><circle cx="516.0" cy="163.5" r="2.35"/><circle cx="516.5" cy="166.5" r="2.35"/><circle cx="534.0" cy="160.5" r="2.35"/><circle cx="536.0" cy="130.5" r="2.35"/><circle cx="486.0" cy="169.5" r="2.35"/><circle cx="487.0" cy="172.5" r="2.35"/><circle cx="506.0" cy="169.5" r="2.35"/><circle cx="527.0" cy="169.5" r="2.35"/><circle cx="535.0" cy="169.5" r="2.35"/><circle cx="527.0" cy="172.5" r="2.35"/><circle cx="471.0" cy="172.5" r="2.35"/><circle cx="475.6" cy="175.5" r="2.35"/><circle cx="480.0" cy="175.5" r="2.35"/><circle cx="483.0" cy="178.5" r="2.35"/><circle cx="495.0" cy="172.5" r="2.35"/><circle cx="496.0" cy="175.5" r="2.35"/><circle cx="506.0" cy="175.5" r="2.35"/><circle cx="508.8" cy="178.5" r="2.35"/><circle cx="512.2" cy="181.5" r="2.35"/><circle cx="520.0" cy="175.5" r="2.35"/><circle cx="524.0" cy="178.5" r="2.35"/><circle cx="524.0" cy="184.5" r="2.35"/><circle cx="528.0" cy="184.5" r="2.35"/><circle cx="531.0" cy="184.5" r="2.35"/><circle cx="534.0" cy="184.5" r="2.35"/><circle cx="519.0" cy="187.5" r="2.35"/><circle cx="479.0" cy="187.5" r="2.35"/><circle cx="475.0" cy="193.5" r="2.35"/><circle cx="495.0" cy="193.5" r="2.35"/><circle cx="488.0" cy="205.5" r="2.35"/><circle cx="539.0" cy="172.5" r="2.35"/><circle cx="550.0" cy="166.5" r="2.35"/><circle cx="553.0" cy="166.5" r="2.35"/><circle cx="560.0" cy="175.5" r="2.35"/><circle cx="542.0" cy="178.5" r="2.35"/><circle cx="549.0" cy="178.5" r="2.35"/><circle cx="549.8" cy="178.5" r="2.35"/><circle cx="557.8" cy="178.5" r="2.35"/><circle cx="541.0" cy="181.5" r="2.35"/><circle cx="558.0" cy="181.5" r="2.35"/><circle cx="560.0" cy="181.5" r="2.35"/><circle cx="554.0" cy="184.5" r="2.35"/><circle cx="557.0" cy="187.5" r="2.35"/><circle cx="553.0" cy="187.5" r="2.35"/><circle cx="564.0" cy="187.5" r="2.35"/><circle cx="538.0" cy="190.5" r="2.35"/><circle cx="546.0" cy="190.5" r="2.35"/><circle cx="565.0" cy="190.5" r="2.35"/><circle cx="575.0" cy="190.5" r="2.35"/><circle cx="557.0" cy="193.5" r="2.35"/><circle cx="570.0" cy="193.5" r="2.35"/><circle cx="582.0" cy="193.5" r="2.35"/><circle cx="553.0" cy="199.5" r="2.35"/><circle cx="560.6" cy="199.5" r="2.35"/><circle cx="575.0" cy="199.5" r="2.35"/><circle cx="549.0" cy="202.5" r="2.35"/><circle cx="560.6" cy="202.5" r="2.35"/><circle cx="560.2" cy="202.5" r="2.35"/><circle cx="579.0" cy="202.5" r="2.35"/><circle cx="566.0" cy="208.5" r="2.35"/><circle cx="561.0" cy="211.5" r="2.35"/><circle cx="579.0" cy="211.5" r="2.35"/><circle cx="573.0" cy="211.5" r="2.35"/><circle cx="568.0" cy="214.5" r="2.35"/><circle cx="567.5" cy="214.5" r="2.35"/><circle cx="582.0" cy="214.5" r="2.35"/><circle cx="572.0" cy="220.5" r="2.35"/><circle cx="583.5" cy="220.5" r="2.35"/><circle cx="576.0" cy="223.5" r="2.35"/><circle cx="576.4" cy="223.5" r="2.35"/><circle cx="576.0" cy="229.5" r="2.35"/><circle cx="580.6" cy="229.5" r="2.35"/><circle cx="580.2" cy="229.5" r="2.35"/><circle cx="579.0" cy="244.5" r="2.35"/></g>
</svg>
<div id="legend">
<div class="row"><span class="sw" style="background:#2f4a8c"></span><span class="nm">Hillary Clinton</span><span class="vl">44.7%</span></div>
<div class="row"><span class="sw" style="background:#8dd3c7"></span><span class="nm">Bernie Sanders</span><span class="vl">25.9%</span></div>
<div class="row"><span class="sw" style="background:#bebada"></span><span class="nm">Joe Biden</span><span class="vl">19.6%</span></div>
<div class="row"><span class="sw" style="background:#fb8072"></span><span class="nm">Martin O'Malley</span><span class="vl">1.4%</span></div>
<div class="row"><span class="sw" style="background:#80b1d3"></span><span class="nm">Jim Webb</span><span class="vl">1.1%</span></div>
<div class="row"><span class="sw" style="background:#fdb462"></span><span class="nm">Lincoln Chafee</span><span class="vl">0.7%</span></div>
</div>
</body></html>
